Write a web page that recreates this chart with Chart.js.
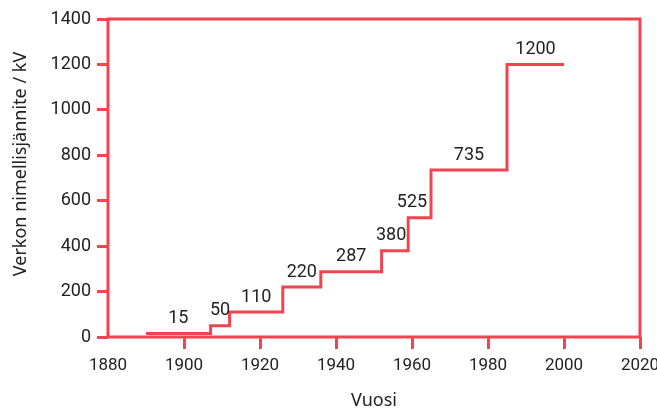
<!DOCTYPE html>
<html>
<head>
<meta charset="utf-8">
<script src="https://cdn.jsdelivr.net/npm/chart.js@4"></script>
<style>
  html, body { margin: 0; padding: 0; background: #fff; }
  #wrap { width: 657px; height: 412px; }
</style>
</head>
<body>
<div id="wrap"><canvas id="chart" width="657" height="412"></canvas></div>
<script>
// step start years and voltage levels (kV)
const years = [1890, 1907, 1912, 1926, 1936, 1952, 1959, 1965, 1985, 2000];
const voltages = [15, 50, 110, 220, 287, 380, 525, 735, 1200, 1200];
// where the value labels sit along the x axis
const labelYears = [1898.5, 1909.5, 1919, 1931, 1944, 1954.5, 1960, 1975, 1992.5];
const labelValues = ['15', '50', '110', '220', '287', '380', '525', '735', '1200'];
const yTitle = 'Verkon nimellisjännite / kV';
const xTitle = 'Vuosi';

const red = '#ef4550';
const numFont = "'Roboto', sans-serif";
const titleFont = "'Noto Sans', 'Open Sans', sans-serif";

const frame = {
  id: 'frame',
  afterDatasetsDraw(chart) {
    const { ctx, chartArea: a } = chart;
    ctx.save();
    ctx.strokeStyle = red;
    ctx.lineWidth = 3;
    ctx.strokeRect(a.left, a.top, a.right - a.left, a.bottom - a.top);
    ctx.restore();
  }
};

const valueLabels = {
  id: 'valueLabels',
  afterDatasetsDraw(chart) {
    const { ctx, scales } = chart;
    ctx.save();
    ctx.fillStyle = '#222';
    ctx.font = '18px ' + numFont;
    ctx.textAlign = 'center';
    ctx.textBaseline = 'middle';
    labelValues.forEach((txt, i) => {
      const x = scales.x.getPixelForValue(labelYears[i]);
      const y = scales.y.getPixelForValue(voltages[i]) - 15;
      ctx.fillText(txt, x, y);
    });
    // y axis title, sits a bit above the axis centre in the original
    ctx.translate(21, 164);
    ctx.rotate(-Math.PI / 2);
    ctx.font = '18px ' + titleFont;
    ctx.fillText(yTitle, 0, 0);
    ctx.restore();
  }
};

new Chart(document.getElementById('chart'), {
  type: 'line',
  data: {
    datasets: [{
      data: years.map((y, i) => ({ x: y, y: voltages[i] })),
      borderColor: red,
      borderWidth: 3,
      stepped: 'before',
      pointRadius: 0,
      fill: false
    }]
  },
  options: {
    responsive: false,
    animation: false,
    layout: { padding: { left: 0, top: 19, right: 17, bottom: 0 } },
    plugins: { legend: { display: false }, tooltip: { enabled: false } },
    scales: {
      x: {
        type: 'linear',
        min: 1880,
        max: 2020,
        afterFit: (s) => { s.height = 75; s.paddingLeft = 0; s.paddingRight = 0; },
        border: { display: false },
        grid: {
          drawOnChartArea: false,
          tickLength: 12,
          lineWidth: 3,
          color: (c) => (c.tick && c.tick.value === 1880 ? 'rgba(0,0,0,0)' : red)
        },
        ticks: { stepSize: 20, color: '#222', padding: 7, maxRotation: 0, font: { family: numFont, size: 17 }, callback: (v) => String(v) },
        title: { display: true, text: xTitle, color: '#222', padding: { top: 10, bottom: 0 }, font: { family: titleFont, size: 18 } }
      },
      y: {
        min: 0,
        max: 1400,
        afterFit: (s) => { s.width = 108; s.paddingTop = 0; s.paddingBottom = 0; },
        border: { display: false },
        grid: { drawOnChartArea: false, tickLength: 11, lineWidth: 3, color: red },
        ticks: { stepSize: 200, color: '#222', padding: 6, font: { family: numFont, size: 18 }, callback: (v) => String(v) }
      }
    }
  },
  plugins: [frame, valueLabels]
});
</script>
</body>
</html>
